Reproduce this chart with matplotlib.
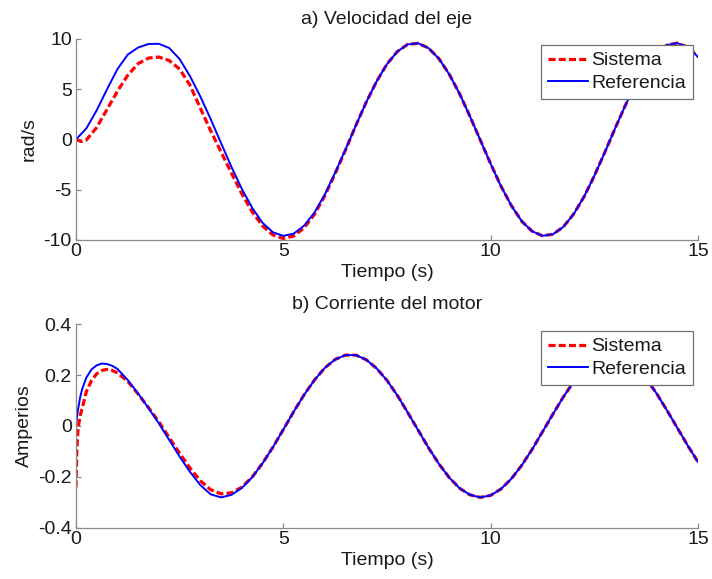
import numpy as np
import matplotlib.pyplot as plt

plt.rcParams['font.family'] = ['Liberation Sans', 'DejaVu Sans']
plt.rcParams['font.size'] = 14
plt.rcParams['axes.unicode_minus'] = False

# ---- a) shaft speed (rad/s), sampled every 0.25 s ----
t_vel = np.arange(0, 15.001, 0.25)
vel_ref = [0.0, 1.1, 2.9, 5.0, 7.0, 8.45, 9.15, 9.5, 9.52, 9.1,
           8.0, 6.3, 4.27, 2.01, -0.37, -2.73, -4.92, -6.80, -8.30, -9.23,
           -9.59, -9.37, -8.58, -7.28, -5.48, -3.30, -0.99, 1.40, 3.71, 5.78,
           7.50, 8.75, 9.46, 9.57, 9.10, 8.05, 6.50, 4.56, 2.31, -0.05,
           -2.42, -4.65, -6.58, -8.13, -9.13, -9.58, -9.43, -8.71, -7.43, -5.71,
           -3.62, -1.31, 1.09, 3.41, 5.53, 7.30, 8.61, 9.39, 9.59, 9.19, 8.23]
vel_sis = [0.0, -0.05, 1.2, 3.0, 4.8, 6.4, 7.55, 8.1, 8.2, 7.85,
           7.0, 5.4, 3.1, 0.85, -1.25, -3.35, -5.4, -7.2, -8.6, -9.5,
           -9.85, -9.6, -8.8, -7.45, -5.6, -3.4, -1.05, 1.40, 3.71, 5.78,
           7.50, 8.75, 9.46, 9.57, 9.10, 8.05, 6.50, 4.56, 2.31, -0.05,
           -2.42, -4.65, -6.58, -8.13, -9.13, -9.58, -9.43, -8.71, -7.43, -5.71,
           -3.62, -1.31, 1.09, 3.41, 5.53, 7.30, 8.61, 9.39, 9.59, 9.19, 8.23]
# small dip of the system right after start
t_vel_sis = np.insert(t_vel, 1, 0.125)
vel_sis = vel_sis[:1] + [-0.2] + vel_sis[1:]

# ---- b) motor current (A) ----
t_cur = np.concatenate([[0, 0.02, 0.05, 0.1, 0.15, 0.25, 0.375, 0.5, 0.625, 0.75, 0.875],
                        np.arange(1.0, 15.001, 0.25)])
cur_ref = [0.0, 0.03, 0.065, 0.112, 0.145, 0.19, 0.222, 0.238, 0.245, 0.243, 0.236,
           0.224, 0.18, 0.127, 0.07, 0.01, -0.055, -0.12,
           -0.18, -0.232, -0.268, -0.28, -0.27, -0.243, -0.201, -0.146, -0.083, -0.014,
           0.056, 0.122, 0.180, 0.228, 0.261, 0.278, 0.278, 0.260, 0.226, 0.179,
           0.120, 0.053, -0.016, -0.085, -0.148, -0.202, -0.244, -0.270, -0.280, -0.272,
           -0.247, -0.207, -0.154, -0.092, -0.023, 0.046, 0.113, 0.173, 0.222, 0.257,
           0.277, 0.279, 0.263, 0.232, 0.186, 0.128, 0.062, -0.007, -0.076, -0.141]
cur_sis = [-0.24, -0.10, -0.01, 0.04, 0.07, 0.135, 0.178, 0.205, 0.218, 0.222, 0.218,
           0.208, 0.175, 0.125, 0.072, 0.016, -0.046, -0.107,
           -0.165, -0.215, -0.25, -0.266, -0.262, -0.24, -0.2, -0.146, -0.083, -0.014,
           0.056, 0.122, 0.180, 0.228, 0.261, 0.278, 0.278, 0.260, 0.226, 0.179,
           0.120, 0.053, -0.016, -0.085, -0.148, -0.202, -0.244, -0.270, -0.280, -0.272,
           -0.247, -0.207, -0.154, -0.092, -0.023, 0.046, 0.113, 0.173, 0.222, 0.257,
           0.277, 0.279, 0.263, 0.232, 0.186, 0.128, 0.062, -0.007, -0.076, -0.141]

text_col = '#1a1a1a'
axis_col = '#8a8a8a'


def style_axes(ax):
    for side in ['top', 'right']:
        ax.spines[side].set_visible(False)
    for side in ['left', 'bottom']:
        ax.spines[side].set_color(axis_col)
        ax.spines[side].set_linewidth(0.9)
    ax.tick_params(direction='in', length=3.5, width=0.9, color=axis_col,
                   labelcolor=text_col, labelsize=14)
    ax.tick_params(axis='x', pad=2)
    ax.tick_params(axis='y', pad=3)
    ax.set_xlim(0, 15)
    ax.set_xticks([0, 5, 10, 15])
    ax.set_xlabel('Tiempo (s)', color=text_col, labelpad=3)


fig = plt.figure(figsize=(7.12, 5.79), dpi=100)
ax1 = fig.add_axes([0.1067, 0.5855, 0.8736, 0.3472])
ax2 = fig.add_axes([0.1067, 0.0881, 0.8736, 0.3523])

ax1.plot(t_vel_sis, vel_sis, color='#ff0000', lw=2.3, dashes=(2.2, 1.0), label='Sistema')
ax1.plot(t_vel, vel_ref, color='#0000ff', lw=1.4, label='Referencia')
style_axes(ax1)
ax1.set_ylim(-10, 10)
ax1.set_yticks([-10, -5, 0, 5, 10])
ax1.set_ylabel('rad/s', color=text_col, labelpad=4)
ax1.set_title('a) Velocidad del eje', color=text_col, fontsize=14, pad=11)

ax2.plot(t_cur, cur_sis, color='#ff0000', lw=2.3, dashes=(2.2, 1.0), label='Sistema')
ax2.plot(t_cur, cur_ref, color='#0000ff', lw=1.4, label='Referencia')
style_axes(ax2)
ax2.set_ylim(-0.4, 0.4)
ax2.set_yticks([-0.4, -0.2, 0, 0.2, 0.4])
ax2.set_yticklabels(['-0.4', '-0.2', '0', '0.2', '0.4'])
ax2.set_ylabel('Amperios', color=text_col, labelpad=4)
ax2.set_title('b) Corriente del motor', color=text_col, fontsize=14, pad=11)

for ax, top in [(ax1, 0.97), (ax2, 0.966)]:
    leg = ax.legend(loc='upper right', bbox_to_anchor=(0.992, top), fontsize=14,
                    frameon=True, fancybox=False, framealpha=1, edgecolor='#707070',
                    borderpad=0.35, labelspacing=0.25, handlelength=2.05,
                    handletextpad=0.2, borderaxespad=0)
    leg.get_frame().set_linewidth(0.9)
    for txt in leg.get_texts():
        txt.set_color(text_col)

fig.savefig('out.png', dpi=100)
